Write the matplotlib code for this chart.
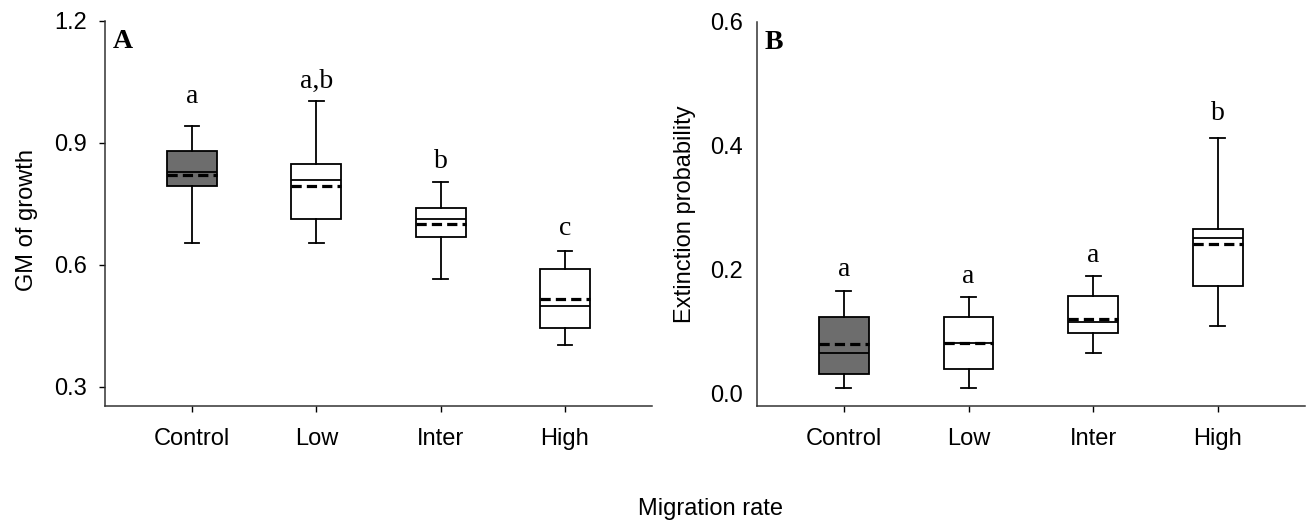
import matplotlib
matplotlib.use("Agg")
import matplotlib.pyplot as plt

categories = ["Control", "Low", "Inter", "High"]

# Panel A: GM of growth
gm_whislo = [0.653, 0.654, 0.566, 0.402]
gm_q1 = [0.794, 0.712, 0.669, 0.445]
gm_med = [0.829, 0.808, 0.712, 0.498]
gm_mean = [0.821, 0.794, 0.700, 0.515]
gm_q3 = [0.880, 0.848, 0.739, 0.589]
gm_whishi = [0.942, 1.003, 0.803, 0.634]
gm_letters = ["a", "a,b", "b", "c"]
gm_letter_y = [0.997, 1.035, 0.839, 0.673]

# Panel B: Extinction probability
ext_whislo = [0.008, 0.008, 0.0645, 0.108]
ext_q1 = [0.031, 0.040, 0.098, 0.173]
ext_med = [0.0645, 0.082, 0.115, 0.250]
ext_mean = [0.079, 0.082, 0.120, 0.2405]
ext_q3 = [0.124, 0.124, 0.1565, 0.266]
ext_whishi = [0.165, 0.155, 0.189, 0.4125]
ext_letters = ["a", "a", "a", "b"]
ext_letter_y = [0.189, 0.1785, 0.2124, 0.441]

box_colors = ["#6d6d6d", "white", "white", "white"]

W, H = 1311, 526
fig = plt.figure(figsize=(W / 100, H / 100), dpi=100)

SANS = "Liberation Sans"
SERIF = "Liberation Serif"


def make_stats(lo, q1, med, mean, q3, hi):
    return [dict(whislo=a, q1=b, med=c, mean=d, q3=e, whishi=f, fliers=[])
            for a, b, c, d, e, f in zip(lo, q1, med, mean, q3, hi)]


def draw_panel(ax, stats, letters, letter_y, ylim, yticks, panel, ytick_len, ypad):
    pos = list(range(1, len(categories) + 1))
    bp = ax.bxp(stats, positions=pos, widths=0.4, capwidths=0.12,
                showmeans=True, meanline=True, patch_artist=True,
                showfliers=False,
                boxprops=dict(linewidth=1.3, edgecolor="black"),
                whiskerprops=dict(linewidth=1.3, color="black"),
                capprops=dict(linewidth=1.3, color="black"),
                medianprops=dict(linewidth=1.3, color="black"),
                meanprops=dict(linewidth=2.3, color="black", linestyle=(0, (3.2, 1.6))))
    for patch, c in zip(bp["boxes"], box_colors):
        patch.set_facecolor(c)
    for x, t, y in zip(pos, letters, letter_y):
        ax.text(x, y, t, ha="center", va="baseline", fontsize=20, family=SERIF)
    ax.set_xlim(0.3, 4.7)
    ax.set_ylim(*ylim)
    ax.set_yticks(yticks)
    ax.set_yticklabels([f"{v:.1f}" for v in yticks])
    ax.set_xticks(pos)
    ax.set_xticklabels(categories)
    for s in ["top", "right"]:
        ax.spines[s].set_visible(False)
    for s in ["left", "bottom"]:
        ax.spines[s].set_linewidth(1.1)
        ax.spines[s].set_color("#333333")
    ax.spines["left"].set_bounds(ylim[0], yticks[-1])
    ax.tick_params(axis="x", length=4.3, width=1.0, pad=11.5, labelsize=17)
    ax.tick_params(axis="y", length=ytick_len, width=1.0, pad=ypad, labelsize=17)
    for lab in ax.get_xticklabels() + ax.get_yticklabels():
        lab.set_family(SANS)
    ax.text(0.015, 0.93, panel, transform=ax.transAxes, fontsize=20,
            fontweight="bold", family=SERIF, ha="left", va="baseline")


def px_axes(left, right, top, bottom):
    return fig.add_axes([left / W, 1 - bottom / H, (right - left) / W, (bottom - top) / H])


axA = px_axes(105, 652, 20.7, 406)
draw_panel(axA, make_stats(gm_whislo, gm_q1, gm_med, gm_mean, gm_q3, gm_whishi),
           gm_letters, gm_letter_y, (0.2525, 1.2), [0.3, 0.6, 0.9, 1.2], "A", 4.3, 9)

axB = px_axes(756.7, 1305, 21.7, 406)
draw_panel(axB, make_stats(ext_whislo, ext_q1, ext_med, ext_mean, ext_q3, ext_whishi),
           ext_letters, ext_letter_y, (-0.0205, 0.6), [0.0, 0.2, 0.4, 0.6], "B", 0, 10)

fig.text(27.5 / W, 1 - 220 / H, "GM of growth", rotation=90, ha="center", va="center",
         fontsize=17, family=SANS)
fig.text(685 / W, 1 - 214 / H, "Extinction probability", rotation=90, ha="center",
         va="center", fontsize=17, family=SANS)
fig.text(711 / W, 1 - 509 / H, "Migration rate", ha="center", va="center",
         fontsize=17, family=SANS)

fig.savefig("out.png", dpi=100)
